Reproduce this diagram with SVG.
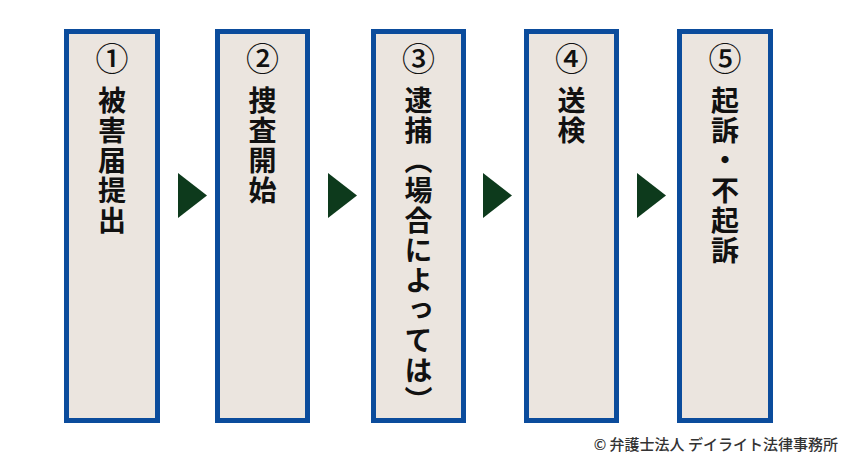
<svg xmlns="http://www.w3.org/2000/svg" width="850" height="462" viewBox="0 0 850 462">
<style>
.box{fill:#ebe5df;stroke:#0b4c9c;stroke-width:5}
.num{font-family:"Noto Sans CJK JP","Noto Sans",sans-serif;font-weight:500;font-size:33px;fill:#111;text-anchor:middle}
.vt{font-family:"Noto Sans CJK JP",sans-serif;font-weight:bold;font-size:28px;fill:#111;writing-mode:vertical-rl;letter-spacing:2px}
.arrow{fill:#0d3a1c}
.copy{font-family:"Noto Sans CJK JP",sans-serif;font-weight:500;font-size:15px;fill:#333;text-anchor:end}
</style>
<rect width="850" height="462" fill="#ffffff"/>
<g id="connectors">
<polygon class="arrow" points="178,173 207,195.5 178,218"/>
<polygon class="arrow" points="328,173 357,195.5 328,218"/>
<polygon class="arrow" points="483,173 512,195.5 483,218"/>
<polygon class="arrow" points="637,173 666,195.5 637,218"/>
</g>
<g id="node1">
<rect class="box" x="66.5" y="31.5" width="91" height="389"/>
<text class="num" x="112" y="71">①</text>
<text class="vt" x="112" y="86">被害届提出</text>
</g>
<g id="node2">
<rect class="box" x="217.5" y="31.5" width="90" height="389"/>
<text class="num" x="262.5" y="71">②</text>
<text class="vt" x="262.5" y="86">捜査開始</text>
</g>
<g id="node3">
<rect class="box" x="373.5" y="31.5" width="90" height="389"/>
<text class="num" x="418.5" y="71">③</text>
<text class="vt" x="418.5" y="86">逮捕（場合によっては）</text>
</g>
<g id="node4">
<rect class="box" x="526.5" y="31.5" width="90" height="389"/>
<text class="num" x="571.5" y="71">④</text>
<text class="vt" x="571.5" y="86">送検</text>
</g>
<g id="node5">
<rect class="box" x="679.5" y="31.5" width="91" height="389"/>
<text class="num" x="725" y="71">⑤</text>
<text class="vt" x="725" y="86">起訴・不起訴</text>
</g>
<text class="copy" x="838" y="450">© 弁護士法人 デイライト法律事務所</text>
</svg>
